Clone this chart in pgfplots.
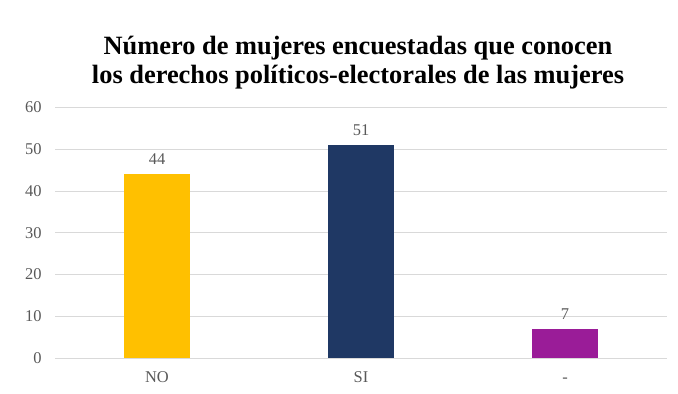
\documentclass[border=0pt]{standalone}
\usepackage{pgfplots}
\pgfplotsset{compat=1.18}
\usepackage{fontspec}
\setmainfont{Liberation Serif}
\definecolor{cno}{HTML}{FFC000}
\definecolor{csi}{HTML}{1F3864}
\definecolor{cna}{HTML}{9A1C98}
\definecolor{txt}{HTML}{595959}
\definecolor{grd}{HTML}{D9D9D9}
\begin{document}
\begin{tikzpicture}
\path[use as bounding box] (0,0) rectangle (678bp,394bp);
\node[font=\bfseries\fontsize{26.5}{29}\selectfont, align=center, anchor=center, inner sep=0pt] at (358bp,331bp)
  {Número de mujeres encuestadas que conocen\\los derechos políticos-electorales de las mujeres};
\begin{axis}[
  at={(55bp,36bp)}, anchor=south west,
  scale only axis, width=612bp, height=250.5bp,
  ymin=0, ymax=60, ytick={0,10,...,60},
  xmin=-0.5, xmax=2.5,
  xtick={0,1,2}, xticklabels={NO,SI,-},
  axis line style={draw=none},
  tick style={draw=none},
  ymajorgrids, grid style={grd, line width=0.8pt},
  ticklabel style={font=\fontsize{16.5}{18}\selectfont, text=txt},
  /pgf/number format/assume math mode=true,
  yticklabel style={xshift=-10bp},
  xticklabel style={yshift=-6bp, text height=11bp, text depth=3bp},
  ybar, bar width=66bp, bar shift=0pt,
  nodes near coords,
  every node near coord/.append style={font=\fontsize{16.5}{18}\selectfont, text=txt, yshift=6bp},
]
\addplot[fill=cno, draw=none] coordinates {(0,44)};
\addplot[fill=csi, draw=none] coordinates {(1,51)};
\addplot[fill=cna, draw=none] coordinates {(2,7)};
\end{axis}
\end{tikzpicture}
\end{document}
